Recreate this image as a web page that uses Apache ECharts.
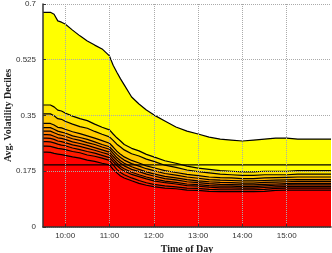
<!DOCTYPE html>
<html>
<head>
<meta charset="utf-8">
<script src="https://cdn.jsdelivr.net/npm/echarts@6/dist/echarts.min.js"></script>
<style>
  html, body { margin: 0; padding: 0; background: #fff; }
  #chart { width: 332px; height: 253px; }
</style>
</head>
<body>
<div id="chart"></div>
<script>
// minutes after 9:30
const times = [0, 5, 10, 15, 20, 25, 30, 40, 50, 60, 70, 80, 90, 95, 100, 105, 110, 120, 130, 140,
  150, 165, 180, 195, 210, 225, 240, 255, 270, 285, 300, 315, 330, 345, 360, 375, 390];

const hourTicks = [30, 90, 150, 210, 270, 330];
const hourLabels = ['10:00', '11:00', '12:00', '13:00', '14:00', '15:00'];
const yTicks = [0, 0.175, 0.35, 0.525, 0.7];

// top decile down to bottom decile
const d10 = [.674,.674,.674,.668,.647,.643,.637,.618,.600,.584,.571,.559,.537,.508,.486,.465,.446,.408,.386,.367,
  .352,.333,.314,.301,.292,.282,.276,.273,.270,.273,.276,.279,.279,.276,.276,.276,.276];
const d9 = [.383,.383,.383,.377,.367,.364,.358,.348,.340,.334,.323,.313,.305,.292,.280,.270,.259,.247,.239,.228,
  .220,.208,.200,.191,.185,.181,.177,.175,.173,.173,.175,.175,.175,.177,.177,.177,.177];
const d8 = [.355,.355,.355,.349,.340,.338,.332,.323,.315,.310,.300,.291,.283,.272,.260,.251,.242,.230,.223,.213,
  .206,.194,.187,.179,.174,.170,.166,.164,.162,.162,.164,.164,.164,.166,.166,.166,.166];
const d7 = [.325,.325,.325,.320,.313,.311,.307,.299,.293,.286,.279,.271,.263,.251,.238,.228,.220,.209,.201,.192,
  .186,.177,.171,.165,.161,.157,.155,.154,.152,.152,.154,.155,.156,.157,.157,.157,.157];
const d6 = [.312,.312,.312,.307,.301,.298,.295,.286,.281,.275,.267,.259,.252,.240,.228,.218,.210,.199,.191,.183,
  .177,.168,.163,.157,.153,.149,.147,.146,.145,.145,.146,.147,.148,.149,.149,.149,.149];
const d5 = [.301,.301,.301,.296,.291,.288,.285,.277,.272,.265,.259,.251,.244,.231,.218,.208,.200,.189,.181,.173,
  .167,.159,.154,.149,.145,.142,.140,.139,.138,.138,.140,.141,.142,.143,.143,.143,.143];
const d4 = [.290,.290,.289,.285,.280,.278,.275,.267,.262,.256,.249,.242,.235,.222,.210,.200,.192,.181,.174,.166,
  .160,.152,.148,.142,.139,.136,.134,.133,.132,.132,.134,.135,.136,.137,.137,.137,.137];
const d3 = [.279,.279,.278,.275,.270,.268,.265,.258,.253,.247,.241,.234,.227,.213,.201,.190,.183,.172,.164,.157,
  .151,.144,.140,.135,.133,.130,.128,.128,.127,.127,.129,.131,.132,.132,.132,.132,.132];
const d2 = [.268,.268,.267,.264,.260,.257,.255,.248,.243,.237,.232,.225,.218,.205,.193,.183,.176,.165,.158,.151,
  .145,.139,.135,.130,.128,.125,.123,.123,.122,.122,.124,.126,.127,.127,.127,.127,.127];
const d1 = [.254,.254,.253,.250,.247,.245,.243,.237,.233,.226,.222,.216,.209,.195,.181,.171,.164,.154,.146,.139,
  .134,.129,.126,.122,.121,.118,.117,.117,.117,.117,.118,.121,.122,.122,.122,.122,.122];
const d0 = [.235,.235,.234,.231,.229,.227,.225,.220,.216,.210,.206,.200,.195,.181,.170,.160,.154,.145,.137,.131,
  .127,.122,.120,.116,.115,.112,.111,.111,.111,.111,.112,.115,.116,.116,.116,.116,.116];

const avgLevel = 0.195;

const deciles = [d10, d9, d8, d7, d6, d5, d4, d3, d2, d1, d0];
const fills = ['#ffff00', '#ffe600', '#ffcc00', '#ffb300', '#ff9900', '#ff8000',
  '#ff6600', '#ff4d00', '#ff3300', '#ff1a00', '#ff0000'];

const series = deciles.map((vals, i) => ({
  type: 'line',
  data: times.map((t, j) => [t, vals[j]]),
  symbol: 'none',
  lineStyle: { color: '#000', width: 1.2 },
  areaStyle: { color: fills[i], opacity: 1 },
  z: 2 + i,
  silent: true
}));
series.push({
  type: 'line',
  data: [[times[0], avgLevel], [times[times.length - 1], avgLevel]],
  symbol: 'none',
  lineStyle: { color: '#000', width: 1.2 },
  z: 20,
  silent: true
});

const chart = echarts.init(document.getElementById('chart'));
chart.setOption({
  animation: false,
  grid: { left: 43, right: 1, top: 4, bottom: 26, outerBoundsMode: 'none', containLabel: false },
  xAxis: {
    type: 'value',
    min: 0,
    max: 390,
    z: 30,
    name: 'Time of Day',
    nameLocation: 'middle',
    nameGap: 17,
    nameMoveOverlap: false,
    nameTextStyle: { fontFamily: 'Liberation Serif', fontWeight: 'bold', fontSize: 10, color: '#222' },
    axisLine: { lineStyle: { color: '#333', width: 1.5 } },
    axisTick: { inside: true, length: 3, customValues: hourTicks, lineStyle: { color: '#333' } },
    axisLabel: {
      customValues: hourTicks,
      margin: 5,
      fontFamily: 'Liberation Sans',
      fontSize: 8,
      color: '#333',
      formatter: v => hourLabels[hourTicks.indexOf(v)]
    },
    splitLine: { show: true, lineStyle: { color: '#aaa', type: [1, 1], width: 1 } }
  },
  yAxis: {
    type: 'value',
    min: 0,
    max: 0.7,
    interval: 0.175,
    z: 30,
    name: 'Avg. Volatility Deciles',
    nameLocation: 'middle',
    nameGap: 30,
    nameMoveOverlap: false,
    nameTextStyle: { fontFamily: 'Liberation Serif', fontWeight: 'bold', fontSize: 10, color: '#222' },
    axisLine: { show: true, lineStyle: { color: '#333', width: 1.5 } },
    axisTick: { show: true, inside: true, length: 3, lineStyle: { color: '#333' } },
    axisLabel: {
      margin: 7,
      fontFamily: 'Liberation Sans',
      fontSize: 8,
      color: '#333',
      formatter: v => String(yTicks.find(t => Math.abs(t - v) < 1e-9) ?? v)
    },
    splitLine: { show: true, lineStyle: { color: '#aaa', type: [1, 1], width: 1 } }
  },
  series: series
});
</script>
</body>
</html>
